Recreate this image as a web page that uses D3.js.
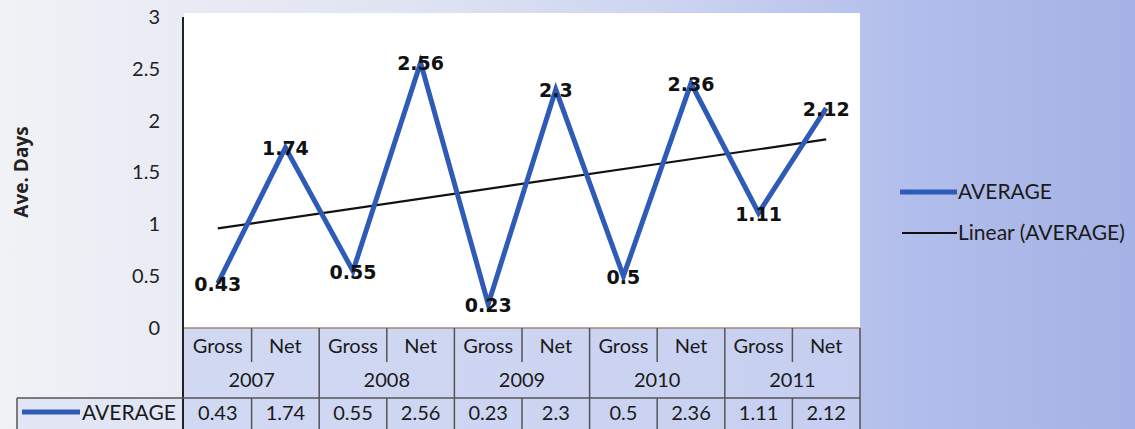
<!DOCTYPE html>
<html>
<head>
<meta charset="utf-8">
<script src="https://d3js.org/d3.v7.min.js"></script>
<style>
  html, body { margin: 0; padding: 0; }
  svg { display: block; }
</style>
</head>
<body>
<svg id="svg" width="1135" height="429"></svg>
<script>
// data
var years = ["2007", "2008", "2009", "2010", "2011"];
var kinds = ["Gross", "Net"];
var average = [0.43, 1.74, 0.55, 2.56, 0.23, 2.3, 0.5, 2.36, 1.11, 2.12];
var yTicks = [0, 0.5, 1, 1.5, 2, 2.5, 3];
var seriesName = "AVERAGE";
var trendName = "Linear (AVERAGE)";

var svg = d3.select("#svg");
var width = +svg.attr("width");
var height = +svg.attr("height");

var plotL = 184, plotR = 860, plotT = 15, plotB = 328;
var row1 = 364, row2 = 398;
var blue = "#2e5bb5";
var font = "Lato, 'Open Sans', sans-serif";

// background
var defs = svg.append("defs");
var grad = defs.append("linearGradient").attr("id", "bg").attr("x1", "0").attr("x2", "1").attr("y1", "0").attr("y2", "0");
grad.append("stop").attr("offset", "0%").attr("stop-color", "#f0f2f5");
grad.append("stop").attr("offset", "35%").attr("stop-color", "#e0e4f3");
grad.append("stop").attr("offset", "60%").attr("stop-color", "#ccd3f0");
grad.append("stop").attr("offset", "80%").attr("stop-color", "#b2beeb");
grad.append("stop").attr("offset", "100%").attr("stop-color", "#a4b2e5");
svg.append("rect").attr("width", width).attr("height", height).attr("fill", "url(#bg)");

// categories
var cats = [];
years.forEach(function(y) { kinds.forEach(function(k) { cats.push(y + "|" + k); }); });

var x = d3.scaleBand().domain(cats).range([plotL, plotR]);
var y = d3.scaleLinear().domain([0, 3]).range([plotB, plotT + 2]);

// plot area + table tint
svg.append("rect").attr("x", plotL).attr("y", plotT - 2).attr("width", plotR - plotL).attr("height", plotB - plotT + 2).attr("fill", "#ffffff");
svg.append("rect").attr("x", plotL).attr("y", plotB).attr("width", plotR - plotL).attr("height", height - plotB).attr("fill", "#c9d1f1").attr("opacity", 0.75);
svg.append("rect").attr("x", 17).attr("y", row2).attr("width", plotL - 17).attr("height", height - row2).attr("fill", "#dfe4f4").attr("opacity", 0.8);

// y axis
var yAxis = d3.axisLeft(y).tickValues(yTicks).tickSize(0).tickPadding(24).tickFormat(d3.format("~g"));
var ga = svg.append("g").attr("transform", "translate(" + plotL + ",0)").call(yAxis);
ga.select(".domain").remove();
ga.selectAll("text").attr("font-family", font).attr("font-size", 20).attr("fill", "#222");
svg.append("line").attr("x1", plotL - 1).attr("x2", plotL - 1).attr("y1", plotT + 2).attr("y2", height).attr("stroke", "#222").attr("stroke-width", 2);

svg.append("text").attr("transform", "translate(28,172) rotate(-90)")
  .attr("text-anchor", "middle").attr("font-family", "'Open Sans', sans-serif").attr("font-weight", "bold")
  .attr("font-size", 19).attr("fill", "#222").text("Ave. Days");

// table grid
var grid = svg.append("g").attr("stroke", "#555").attr("stroke-width", 1.5);
grid.append("line").attr("x1", plotL).attr("x2", plotR).attr("y1", plotB).attr("y2", plotB).attr("stroke", "#9a8a7a");
grid.append("line").attr("x1", 17).attr("x2", plotR).attr("y1", row2).attr("y2", row2);
grid.append("line").attr("x1", 17).attr("x2", 17).attr("y1", row2).attr("y2", height);
cats.forEach(function(c, i) {
  var bx = x(c) + x.bandwidth();
  var isYearEnd = i % 2 === 1;
  grid.append("line").attr("x1", bx).attr("x2", bx)
    .attr("y1", plotB).attr("y2", isYearEnd ? height : row1 - 2);
  if (!isYearEnd) grid.append("line").attr("x1", bx).attr("x2", bx).attr("y1", row2).attr("y2", height);
});

var tText = svg.append("g").attr("font-family", font).attr("font-size", 20).attr("fill", "#1a1a1a").attr("text-anchor", "middle");
cats.forEach(function(c, i) {
  var cx = x(c) + x.bandwidth() / 2;
  tText.append("text").attr("x", cx).attr("y", plotB + 25).text(c.split("|")[1]);
  tText.append("text").attr("x", cx).attr("y", 420).text(average[i]);
});
years.forEach(function(yr) {
  var cx = x(yr + "|Gross") + x.bandwidth();
  tText.append("text").attr("x", cx).attr("y", row1 + 23).text(yr);
});
svg.append("line").attr("x1", 22).attr("x2", 80).attr("y1", 412).attr("y2", 412).attr("stroke", blue).attr("stroke-width", 5);
svg.append("text").attr("x", 82).attr("y", 420).attr("font-family", font).attr("font-size", 21).attr("fill", "#1a1a1a").text(seriesName);

// trend line (least squares on category index)
var n = average.length;
var xs = d3.range(1, n + 1);
var mx = d3.mean(xs), my = d3.mean(average);
var slope = d3.sum(xs, function(v, i) { return (v - mx) * (average[i] - my); }) / d3.sum(xs, function(v) { return (v - mx) * (v - mx); });
var icpt = my - slope * mx;
svg.append("line")
  .attr("x1", x(cats[0]) + x.bandwidth() / 2).attr("y1", y(icpt + slope * 1))
  .attr("x2", x(cats[n - 1]) + x.bandwidth() / 2).attr("y2", y(icpt + slope * n))
  .attr("stroke", "#111").attr("stroke-width", 2.2);

// series line
var line = d3.line().x(function(d, i) { return x(cats[i]) + x.bandwidth() / 2; }).y(function(d) { return y(d); });
svg.append("path").datum(average).attr("d", line).attr("fill", "none").attr("stroke", blue).attr("stroke-width", 5).attr("stroke-linejoin", "miter");

// data labels
svg.append("g").selectAll("text").data(average).join("text")
  .attr("x", function(d, i) { return x(cats[i]) + x.bandwidth() / 2; })
  .attr("y", function(d) { return y(d); })
  .attr("dy", "0.4em").attr("text-anchor", "middle")
  .attr("font-family", "'DejaVu Sans', sans-serif").attr("font-weight", "bold").attr("font-size", 19).attr("fill", "#111")
  .text(function(d) { return d; });

// legend
var lg = svg.append("g").attr("font-family", font).attr("font-size", 21).attr("fill", "#1a1a1a");
lg.append("line").attr("x1", 900).attr("x2", 957).attr("y1", 192).attr("y2", 192).attr("stroke", blue).attr("stroke-width", 5);
lg.append("text").attr("x", 958).attr("y", 199).text(seriesName);
lg.append("line").attr("x1", 902).attr("x2", 957).attr("y1", 233).attr("y2", 233).attr("stroke", "#111").attr("stroke-width", 2);
lg.append("text").attr("x", 958).attr("y", 240).text(trendName);
</script>
</body>
</html>
